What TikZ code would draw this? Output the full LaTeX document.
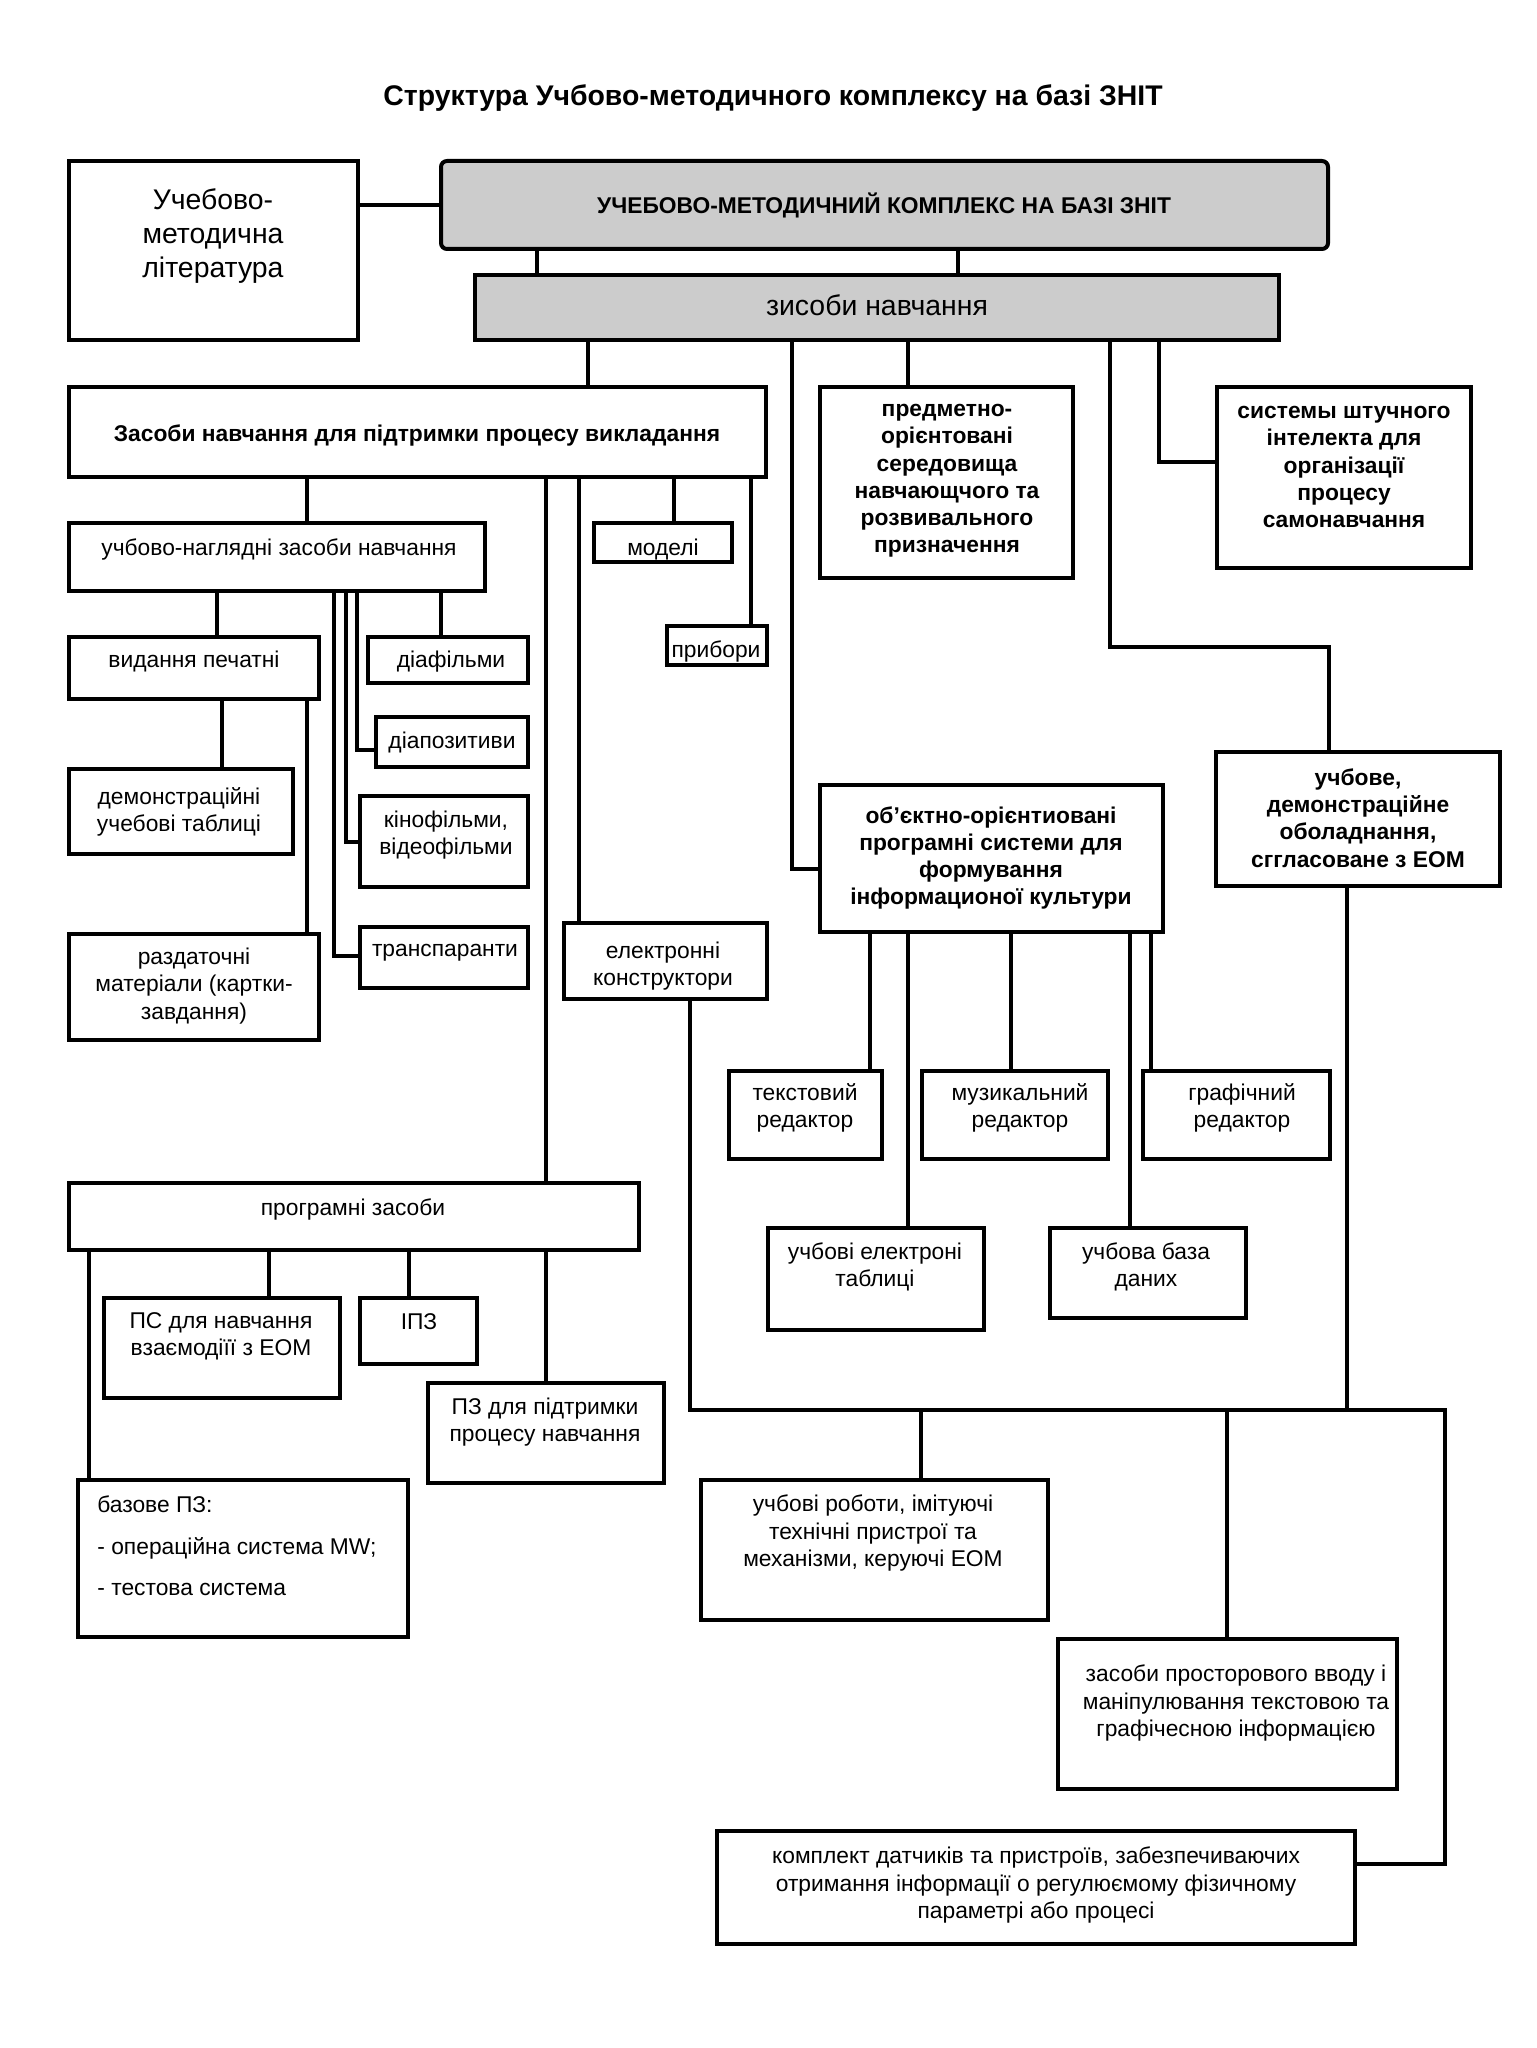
\documentclass[tikz,border=0pt]{standalone}
\usepackage{fontspec}
\setmainfont{Liberation Sans}
\definecolor{boxgray}{RGB}{204,204,204}
\tikzset{
  box/.style={draw=black, line width=2pt, inner sep=0pt, outer sep=0pt, rectangle},
  graybox/.style={box, fill=boxgray},
  txt/.style={inner sep=0pt, align=center, font=\fontsize{11.4}{13.6}\selectfont},
  btxt/.style={inner sep=0pt, align=center, font=\fontsize{11.4}{13.6}\selectfont\bfseries},
  bigtxt/.style={inner sep=0pt, align=center, font=\fontsize{14.2}{17}\selectfont},
  titletxt/.style={inner sep=0pt, align=center, font=\fontsize{14.2}{16}\selectfont\bfseries},
  conn/.style={draw=black, line width=2pt, line cap=rect, line join=miter}
}
\newcommand\bx[6][]{\node[box,#1,minimum width={(#5-#3)*0.5pt},minimum height={(#6-#4)*0.5pt}] (#2) at ({(#3+#5)/2},{(#4+#6)/2}) {};}
\begin{document}
\begin{tikzpicture}[x=0.5pt,y=-0.5pt]
\useasboundingbox (0,0) rectangle (1536,2048);
\fill[white] (0,0) rectangle (1536,2048);

% title
\node[titletxt] (title) at (773,98) {Структура Учбово-методичного комплексу на базі ЗНІТ};

% boxes
\bx{lit}{69}{161}{358}{340}
\node[bigtxt] (tlit) at (213,236) {Учебово-\\методична\\література};
\bx[graybox,rounded corners=3pt]{main}{441}{161}{1328}{249}
\node[btxt] (tmain) at (884,205) {УЧЕБОВО-МЕТОДИЧНИЙ КОМПЛЕКС НА БАЗІ ЗНІТ};
\bx[graybox]{zisoby}{475}{275}{1279}{340}
\node[bigtxt] (tzisoby) at (877,305) {зисоби навчання};

\bx{zasobi}{69}{387}{766}{477}
\node[btxt] (tzasobi) at (417,436) {Засоби навчання для підтримки процесу викладання};
\bx{predm}{820}{387}{1073}{578}
\node[btxt] (tpredm) at (947,481) {предметно-\\орієнтовані\\середовища\\навчающчого та\\розвивального\\призначення};
\bx{systemy}{1217}{387}{1471}{568}
\node[btxt] (tsystemy) at (1344,467) {системы штучного\\інтелекта для\\організації\\процесу\\самонавчання};

\bx{naoch}{69}{523}{485}{591}
\node[txt] (tnaoch) at (279,550) {учбово-наглядні засоби навчання};
\bx{modeli}{594}{523}{732}{562}
\node[txt] (tmodeli) at (663,550) {моделі};
\bx{prybory}{667}{626}{767}{665}
\node[txt] (tprybory) at (716,652) {прибори};

\bx{vydannia}{69}{637}{319}{699}
\node[txt] (tvydannia) at (194,662) {видання печатні};
\bx{diafilmy}{368}{637}{528}{683}
\node[txt] (tdiafilmy) at (451,662) {діафільми};
\bx{diapoz}{376}{717}{528}{767}
\node[txt] (tdiapoz) at (452,743) {діапозитиви};
\bx{kino}{360}{796}{528}{887}
\node[txt] (tkino) at (446,835) {кінофільми,\\відеофільми};
\bx{transp}{360}{927}{528}{988}
\node[txt] (ttransp) at (445,953) {транспаранти};
\bx{demonstr}{69}{769}{293}{854}
\node[txt] (tdemonstr) at (179,812) {демонстраційні\\учебові таблиці};
\bx{razd}{69}{934}{319}{1040}
\node[txt] (trazd) at (194,986) {раздаточні\\матеріали (картки-\\завдання)};

\bx{elektr}{564}{923}{767}{999}
\node[txt] (telektr) at (663,966) {електронні\\конструктори};

\bx{obj}{820}{785}{1163}{932}
\node[btxt] (tobj) at (991,858) {об’єктно-орієнтиовані\\програмні системи для\\формування\\інформационої культури};
\bx{uchbove}{1216}{752}{1500}{886}
\node[btxt] (tuchbove) at (1358,818) {учбове,\\демонстраційне\\оболаднання,\\сггласоване з ЕОМ};

\bx{tekst}{729}{1071}{882}{1159}
\node[txt] (ttekst) at (805,1108) {текстовий\\редактор};
\bx{muz}{922}{1071}{1108}{1159}
\node[txt] (tmuz) at (1020,1108) {музикальний\\редактор};
\bx{graf}{1143}{1071}{1330}{1159}
\node[txt] (tgraf) at (1242,1108) {графічний\\редактор};
\bx{uchel}{768}{1228}{984}{1330}
\node[txt] (tuchel) at (875,1267) {учбові електроні\\таблиці};
\bx{baza}{1050}{1228}{1246}{1318}
\node[txt] (tbaza) at (1146,1267) {учбова база\\даних};

\bx{programni}{69}{1183}{639}{1250}
\node[txt] (tprogramni) at (353,1209) {програмні засоби};
\bx{ps}{104}{1298}{340}{1398}
\node[txt] (tps) at (221,1336) {ПС для навчання\\взаємодіїї з ЕОМ};
\bx{ipz}{360}{1298}{477}{1364}
\node[txt] (tipz) at (419,1322) {ІПЗ};
\bx{pz}{428}{1383}{664}{1483}
\node[txt] (tpz) at (545,1422) {ПЗ для підтримки\\процесу навчання};
\bx{bazove}{78}{1480}{408}{1637}
\node[inner sep=0pt, align=left, anchor=west, font=\fontsize{11.4}{20.8}\selectfont] (tbazove) at (97,1546) {базове ПЗ:\\- операційна система MW;\\- тестова система};

\bx{roboty}{701}{1480}{1048}{1620}
\node[txt] (troboty) at (873,1533) {учбові роботи, імітуючі\\технічні пристрої та\\механізми, керуючі ЕОМ};
\bx{prostor}{1058}{1639}{1397}{1789}
\node[txt] (tprostor) at (1236,1703) {засоби просторового вводу і\\маніпулювання текстовою та\\графічесною інформацією};
\bx{komplekt}{717}{1831}{1355}{1944}
\node[txt] (tkomplekt) at (1036,1885) {комплект датчиків та пристроїв, забезпечиваючих\\отримання інформації о регулюємому фізичному\\параметрі або процесі};

% connectors
\path[conn] (lit.east |- main.west) -- (main.west);
\path[conn] (main.south -| 537,0) -- (zisoby.north -| 537,0);
\path[conn] (main.south -| 958,0) -- (zisoby.north -| 958,0);

\coordinate (ubend) at (1329,647);
\path[conn] (zisoby.south -| 588,0) -- (zasobi.north -| 588,0);
\path[conn] (zisoby.south -| 792,0) |- (obj.west |- 0,869);
\path[conn] (zisoby.south -| 908,0) -- (predm.north -| 908,0);
\path[conn] (zisoby.south -| 1110,0) |- (ubend) -- (uchbove.north -| ubend);
\path[conn] (zisoby.south -| 1159,0) |- (systemy.west |- 0,462);

\path[conn] (zasobi.south -| 307,0) -- (naoch.north -| 307,0);
\path[conn] (zasobi.south -| 546,0) -- (programni.north -| 546,0);
\path[conn] (zasobi.south -| 579,0) -- (elektr.north -| 579,0);
\path[conn] (zasobi.south -| 674,0) -- (modeli.north -| 674,0);
\path[conn] (zasobi.south -| 751,0) -- (prybory.north -| 751,0);

\path[conn] (naoch.south -| 217,0) -- (vydannia.north -| 217,0);
\path[conn] (naoch.south -| 441,0) -- (diafilmy.north -| 441,0);
\path[conn] (naoch.south -| 357,0) |- (diapoz.west |- 0,750);
\path[conn] (naoch.south -| 346,0) |- (kino.west |- 0,842);
\path[conn] (naoch.south -| 334,0) |- (transp.west |- 0,956);

\path[conn] (vydannia.south -| 222,0) -- (demonstr.north -| 222,0);
\path[conn] (vydannia.south -| 307,0) -- (razd.north -| 307,0);

\path[conn] (obj.south -| 870,0) -- (tekst.north -| 870,0);
\path[conn] (obj.south -| 908,0) -- (uchel.north -| 908,0);
\path[conn] (obj.south -| 1011,0) -- (muz.north -| 1011,0);
\path[conn] (obj.south -| 1130,0) -- (baza.north -| 1130,0);
\path[conn] (obj.south -| 1151,0) -- (graf.north -| 1151,0);

\coordinate (busL) at (690,1410);
\coordinate (busR) at (1445,1410);
\path[conn] (elektr.south -| busL) -- (busL) -- (busR) |- (komplekt.east |- 0,1864);
\path[conn] (uchbove.south -| 1347,0) -- (busL -| 1347,0);
\path[conn] (busL -| 921,0) -- (roboty.north -| 921,0);
\path[conn] (busL -| 1227,0) -- (prostor.north -| 1227,0);

\path[conn] (programni.south -| 89,0) -- (bazove.north -| 89,0);
\path[conn] (programni.south -| 269,0) -- (ps.north -| 269,0);
\path[conn] (programni.south -| 409,0) -- (ipz.north -| 409,0);
\path[conn] (programni.south -| 546,0) -- (pz.north -| 546,0);
\end{tikzpicture}
\end{document}
